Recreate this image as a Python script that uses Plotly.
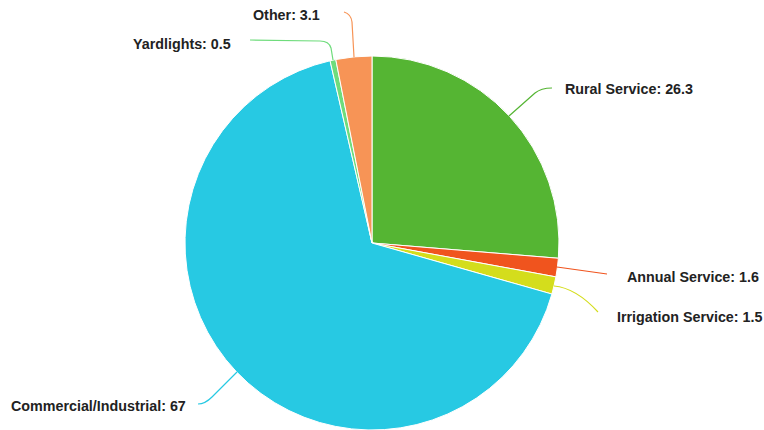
import plotly.graph_objects as go

labels = ["Rural Service", "Annual Service", "Irrigation Service", "Commercial/Industrial", "Yardlights", "Other"]
values = [26.3, 1.6, 1.5, 67, 0.5, 3.1]
colors = ["#55b533", "#f0541e", "#d4dd1c", "#27c9e3", "#6fdc7c", "#f79456"]

W, H = 764, 430
CX, CY, R = 372, 243, 187

def px(x):
    return x / W

def py(y):
    return 1 - y / H

fig = go.Figure(go.Pie(
    labels=labels, values=values, sort=False, direction="clockwise", rotation=0,
    marker=dict(colors=colors, line=dict(color="white", width=1)),
    textinfo="none", hoverinfo="label+value", showlegend=False,
    domain=dict(x=[px(CX - R), px(CX + R)], y=[py(CY + R), py(CY - R)]),
))

# label text placement (pixel) and anchor
label_pos = [
    (563, 89, "left"),
    (625, 277, "left"),
    (615, 317, "left"),
    (188, 406, "right"),
    (233, 44, "right"),
    (322, 15, "right"),
]
# connector paths (pixel coords)
connectors = [
    [("M", 509, 116), ("L", 535, 93), ("Q", 541, 88, 552, 88)],
    [("M", 557, 267), ("L", 607, 274)],
    [("M", 554, 286), ("Q", 576, 288, 598, 312)],
    [("M", 237, 372), ("L", 212, 397), ("Q", 205, 404, 198, 404)],
    [("M", 333, 60), ("L", 331, 48), ("Q", 329, 41, 320, 41), ("L", 250, 40)],
    [("M", 354, 57), ("L", 352, 22), ("Q", 351, 14, 344, 12)],
]

for i, (lab, val) in enumerate(zip(labels, values)):
    x, y, anc = label_pos[i]
    txt = f"{lab}: {val:g}"
    fig.add_annotation(x=px(x), y=py(y), xref="paper", yref="paper", text=f"<b>{txt}</b>",
                       showarrow=False, xanchor=anc, yanchor="middle",
                       font=dict(family="Liberation Sans, Arial", size=14.3, color="#222222"))
    parts = []
    for seg in connectors[i]:
        cmd = seg[0]
        coords = seg[1:]
        pts = []
        for k in range(0, len(coords), 2):
            pts.append(f"{px(coords[k]):.5f},{py(coords[k+1]):.5f}")
        parts.append(cmd + " " + " ".join(pts))
    fig.add_shape(type="path", xref="paper", yref="paper", path=" ".join(parts),
                  line=dict(color=colors[i], width=1.2))

fig.update_layout(width=W, height=H, margin=dict(l=0, r=0, t=0, b=0),
                  paper_bgcolor="white", plot_bgcolor="white")

fig.write_html("out.html", config={"displayModeBar": False},
               post_script="document.body.style.margin='0';document.body.style.overflow='hidden';")
